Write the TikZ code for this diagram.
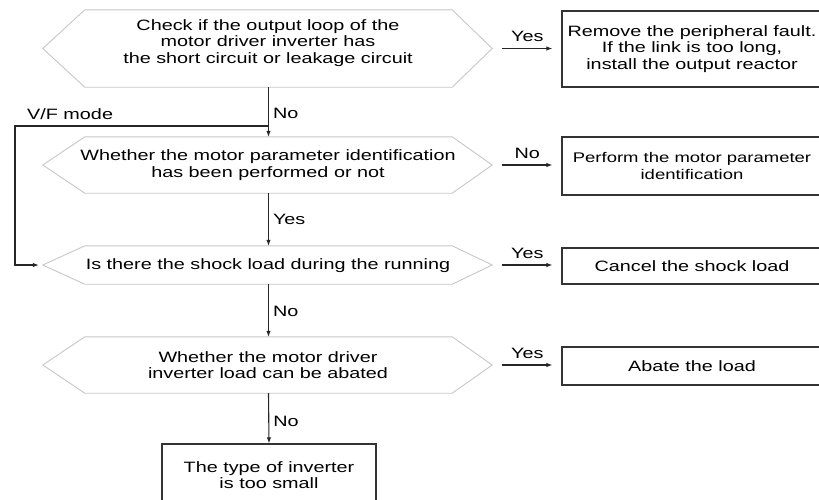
\documentclass[tikz,border=0pt]{standalone}
\usepackage{fontspec}
\setmainfont{Liberation Sans}[FakeStretch=1.32]
\usetikzlibrary{calc,arrows.meta}
\begin{document}
\begin{tikzpicture}[x=1pt,y=-1pt,
  hexbox/.style={draw=none,inner sep=0pt,minimum width=367pt},
  hexline/.style={draw=black!22,line width=0.9pt,line join=miter},
  txt/.style={inner sep=0pt,align=center,text=black,font=\fontsize{15}{16.7}\selectfont},
  actbox/.style={draw=black!80,line width=1.3pt,inner sep=0pt,align=center,text=black,font=\fontsize{15}{16.7}\selectfont},
  arr/.style={draw=black!85,line width=1.1pt,-{Latex[length=6pt,width=4.5pt]}},
  lab/.style={text=black,font=\fontsize{15}{16.7}\selectfont,inner sep=1pt}]
\useasboundingbox (0,0) rectangle (819,499);
\clip (0,0) rectangle (819,499);
\fill[white] (0,0) rectangle (819,499);
\newcommand\hexoutline[1]{%
  \draw[hexline] (#1.north west) -- (#1.north east) -- ($(#1.east)+(40,0)$) --
    (#1.south east) -- (#1.south west) -- ($(#1.west)+(-42,0)$) -- cycle;}
% decision hexagons
\node[hexbox,minimum height=77pt] (h1) at (268.5,48.5) {};
\node[hexbox,minimum height=56pt] (h2) at (268.5,165) {};
\node[hexbox,minimum height=38pt] (h3) at (268.5,265) {};
\node[hexbox,minimum height=56pt] (h4) at (268.5,365) {};
\hexoutline{h1}\hexoutline{h2}\hexoutline{h3}\hexoutline{h4}
\node[txt] (t1) at (268,43) {Check if the output loop of the\\motor driver inverter has\\the short circuit or leakage circuit};
\node[txt] (t2) at (268,165) {Whether the motor parameter identification\\has been performed or not};
\node[txt] (t3) at (268,266) {Is there the shock load during the running};
\node[txt] (t4) at (268,365) {Whether the motor driver\\inverter load can be abated};
% action boxes
\node[actbox,minimum width=260pt,minimum height=76pt] (b1) at (692,49) {Remove the peripheral fault.\\If the link is too long,\\install the output reactor};
\node[actbox,minimum width=260pt,minimum height=58pt,font=\fontsize{14}{16.7}\selectfont] (b2) at (692,166) {Perform the motor parameter\\identification};
\node[actbox,minimum width=260pt,minimum height=36pt] (b3) at (692,266) {Cancel the shock load};
\node[actbox,minimum width=260pt,minimum height=38pt] (b4) at (692,366) {Abate the load};
\node[actbox,minimum width=214pt,minimum height=62pt] (b5) at (269,475) {The type of inverter\\is too small};
% right arrows
\draw[arr] ($(h1.east)+(50,0)$) -- ($(b1.west |- h1.east)+(-9,0)$) node[midway,above,lab,yshift=5pt] {Yes};
\draw[arr] ($(h2.east)+(50,0)$) -- ($(b2.west |- h2.east)+(-9,0)$) node[midway,above,lab,yshift=5pt] {No};
\draw[arr] ($(h3.east)+(50,0)$) -- ($(b3.west |- h3.east)+(-9,0)$) node[midway,above,lab,yshift=5pt] {Yes};
\draw[arr] ($(h4.east)+(50,0)$) -- ($(b4.west |- h4.east)+(-9,0)$) node[midway,above,lab,yshift=5pt] {Yes};
% down arrows
\draw[arr] (h1.south) -- (h2.north) node[midway,right,lab,xshift=3pt,yshift=-1pt] {No};
\draw[arr] (h2.south) -- (h3.north) node[midway,right,lab,xshift=3pt] {Yes};
\draw[arr] (h3.south) -- (h4.north) node[midway,right,lab,xshift=3pt,yshift=-1pt] {No};
\draw[arr] (h4.south) -- (b5.north) node[midway,right,lab,xshift=3pt,yshift=-3pt] {No};
% V/F mode bypass
\coordinate (vf) at (268.5,126);
\coordinate (vfc) at (15,126);
\draw[arr] (vf) -- (vfc) |- ($(h3.west)+(-46,0)$);
\node[lab,anchor=base west] (vflab) at (26,119) {V/F mode};
\end{tikzpicture}
\end{document}
